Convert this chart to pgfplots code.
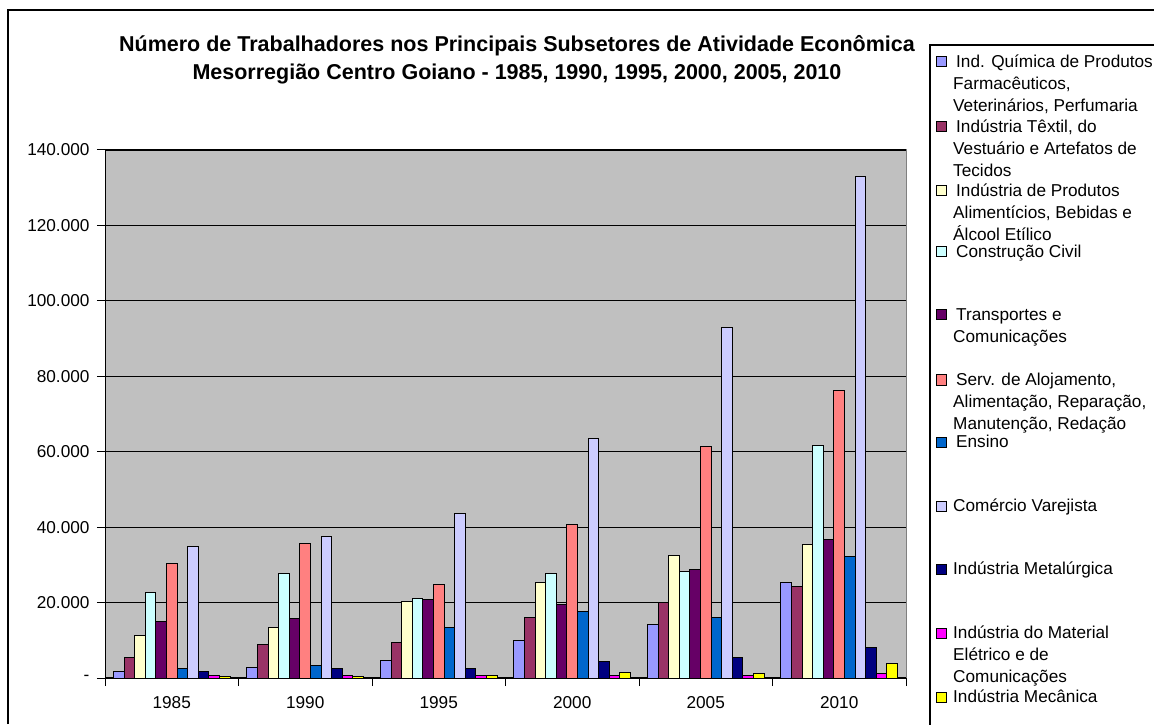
\documentclass[border=0pt]{standalone}
\usepackage{fontspec}
\setmainfont{Liberation Sans}
\usepackage{pgfplots}
\usepackage{pgfplotstable}
\pgfplotsset{compat=1.18}

% Excel 97 palette
\definecolor{cQuim}{HTML}{9999FF}
\definecolor{cText}{HTML}{993366}
\definecolor{cAlim}{HTML}{FFFFCC}
\definecolor{cCons}{HTML}{CCFFFF}
\definecolor{cTran}{HTML}{660066}
\definecolor{cServ}{HTML}{FF8080}
\definecolor{cEnsi}{HTML}{0066CC}
\definecolor{cCome}{HTML}{CCCCFF}
\definecolor{cMeta}{HTML}{000080}
\definecolor{cElet}{HTML}{FF00FF}
\definecolor{cMeca}{HTML}{FFFF00}
\definecolor{wall}{HTML}{C0C0C0}

% x: 1=1985 ... 6=2010
\pgfplotstableread{
x quim textil alim constr transp serv ensino comercio metal eletr mec
1 1600 5500 11400 22600 14900 30300 2400 35000 1600 700 500
2 2800 9000 13400 27600 15800 35600 3300 37500 2600 700 500
3 4600 9500 20200 21000 20800 24700 13300 43500 2600 700 700
4 9900 16000 25400 27800 19400 40600 17600 63600 4500 600 1500
5 14300 20100 32500 28200 28900 61400 16000 93000 5500 700 1300
6 25400 24200 35500 61600 36800 76200 32200 133000 8000 1200 3900
}\dados

\newcommand{\lfont}{\fontsize{17.2}{22}\selectfont}

\begin{document}
\begin{tikzpicture}[x=1pt,y=1pt]
\path[use as bounding box] (0,0) rectangle (1154,724);
\fill[white] (0,0) rectangle (1154,724);
\draw[line width=1.5pt] (8,0) -- (8,714) -- (1160,714);

\node[font=\bfseries\fontsize{21.5}{28}\selectfont, align=center] at (517,664)
  {Número de Trabalhadores nos Principais Subsetores de Atividade Econômica\\
   Mesorregião Centro Goiano - 1985, 1990, 1995, 2000, 2005, 2010};

\begin{axis}[
    at={(105pt,46pt)}, anchor=south west,
    scale only axis, width=801pt, height=528pt,
    ybar=0pt, bar width=10.6pt,
    xmin=0.5, xmax=6.5, ymin=0, ymax=140000,
    axis background/.style={fill=wall, draw=gray, line width=1pt},
    axis x line*=bottom, axis y line*=left,
    axis line style={-, line width=1pt},
    xtick={0.5,1.5,...,6.5},
    xticklabels={1985,1990,1995,2000,2005,2010,{}},
    xticklabel style={xshift=66.75pt, yshift=-7pt},
    ytick={0,20000,...,140000},
    yticklabels={-,20.000,40.000,60.000,80.000,100.000,120.000,140.000},
    yticklabel style={xshift=-4pt},
    scaled y ticks=false,
    tick align=outside, major tick length=8pt,
    tick style={black, line width=1pt},
    ymajorgrids, major grid style={black, line width=1.2pt},
    ticklabel style={font=\lfont, black},
    every axis plot/.append style={draw=black, line width=1pt},
]
\addplot[fill=cQuim] table[x=x, y=quim] {\dados};
\addplot[fill=cText] table[x=x, y=textil] {\dados};
\addplot[fill=cAlim] table[x=x, y=alim] {\dados};
\addplot[fill=cCons] table[x=x, y=constr] {\dados};
\addplot[fill=cTran] table[x=x, y=transp] {\dados};
\addplot[fill=cServ] table[x=x, y=serv] {\dados};
\addplot[fill=cEnsi] table[x=x, y=ensino] {\dados};
\addplot[fill=cCome] table[x=x, y=comercio] {\dados};
\addplot[fill=cMeta] table[x=x, y=metal] {\dados};
\addplot[fill=cElet] table[x=x, y=eletr] {\dados};
\addplot[fill=cMeca] table[x=x, y=mec] {\dados};
\end{axis}

% legend box (runs off the right and bottom edges)
\draw[line width=1.5pt] (930,-10) -- (930,679) -- (1160,679);
\foreach \yy/\col/\txt in {
  62/cQuim/{\hspace{3pt}Ind. Química de Produtos\\Farmacêuticos,\\Veterinários, Perfumaria},
  127/cText/{\hspace{3pt}Indústria Têxtil, do\\Vestuário e Artefatos de\\Tecidos},
  191/cAlim/{\hspace{3pt}Indústria de Produtos\\Alimentícios, Bebidas e\\Álcool Etílico},
  252/cCons/{\hspace{3pt}Construção Civil},
  315/cTran/{\hspace{3pt}Transportes e\\Comunicações},
  380/cServ/{\hspace{3pt}Serv. de Alojamento,\\Alimentação, Reparação,\\Manutenção, Redação},
  442/cEnsi/{\hspace{3pt}Ensino},
  506/cCome/{Comércio Varejista},
  569/cMeta/{Indústria Metalúrgica},
  633/cElet/{Indústria do Material\\Elétrico e de\\Comunicações},
  697/cMeca/{Indústria Mecânica}} {
  \filldraw[fill=\col, draw=black, line width=1pt] (936,{724-\yy-5}) rectangle (946,{724-\yy+5});
  \node[anchor=north west, inner sep=0pt, align=left, font=\lfont] at (953,{724-\yy+7}) {\txt};
}
\end{tikzpicture}
\end{document}
